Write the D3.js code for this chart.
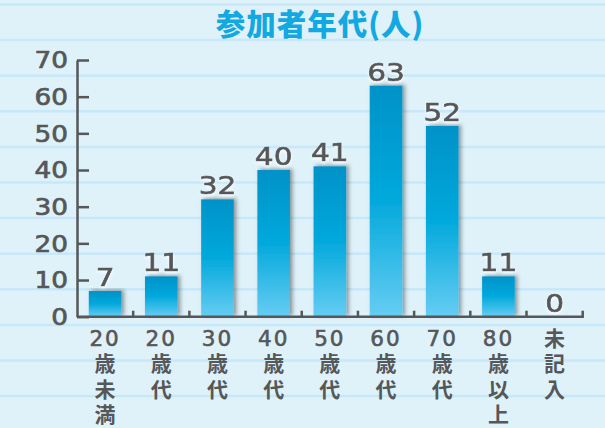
<!DOCTYPE html>
<html>
<head>
<meta charset="utf-8">
<script src="https://cdn.jsdelivr.net/npm/d3@7"></script>
<style>
  html, body { margin: 0; padding: 0; background: #dff2fa; }
  svg { display: block; }
</style>
</head>
<body>
<div id="chart"></div>
<script>
// data
const categories = ["20歳未満", "20歳代", "30歳代", "40歳代", "50歳代", "60歳代", "70歳代", "80歳以上", "未記入"];
const counts = [7, 11, 32, 40, 41, 63, 52, 11, 0];
const yTicks = [0, 10, 20, 30, 40, 50, 60, 70];
const title = "参加者年代(人)";

let dim = { width: 605, height: 428 };
const axisColor = "#555759";
const numFont = "'DejaVu Sans', sans-serif";
const jpFont = "'Noto Sans CJK JP', sans-serif";

let svg = d3.select('#chart').append('svg')
    .attr('width', dim.width)
    .attr('height', dim.height);

let defs = svg.append('defs');

let grad = defs.append('linearGradient')
    .attr('id', 'barGrad')
    .attr('x1', 0).attr('y1', 0).attr('x2', 0).attr('y2', 1);
grad.append('stop').attr('offset', '0%').attr('stop-color', '#0092c8');
grad.append('stop').attr('offset', '50%').attr('stop-color', '#03a9dc');
grad.append('stop').attr('offset', '100%').attr('stop-color', '#66cdf3');

let shadow = defs.append('filter').attr('id', 'barShadow')
    .attr('x', '-30%').attr('y', '-10%').attr('width', '160%').attr('height', '120%');
shadow.append('feDropShadow')
    .attr('dx', 2.5).attr('dy', -1).attr('stdDeviation', 2)
    .attr('flood-color', '#000').attr('flood-opacity', 0.4);

let txtShadow = defs.append('filter').attr('id', 'txtShadow')
    .attr('x', '-20%').attr('y', '-20%').attr('width', '140%').attr('height', '160%');
txtShadow.append('feDropShadow')
    .attr('dx', 0).attr('dy', 2).attr('stdDeviation', 1.5)
    .attr('flood-color', '#fff').attr('flood-opacity', 0.9);

// background ruled lines
svg.append('rect').attr('width', dim.width).attr('height', dim.height).attr('fill', '#dff2fa');
svg.append('g')
    .selectAll('line')
    .data(d3.range(12))
    .enter().append('line')
    .attr('x1', 0).attr('x2', dim.width)
    .attr('y1', i => 4.5 + i * 35.6)
    .attr('y2', i => 4.5 + i * 35.6)
    .attr('stroke', '#c6e8f8')
    .attr('stroke-width', 2.5);

// title
svg.append('text')
    .attr('x', 320).attr('y', 35)
    .attr('text-anchor', 'middle')
    .attr('font-family', jpFont)
    .attr('font-weight', 900)
    .attr('font-size', 29.5)
    .attr('letter-spacing', 1)
    .attr('fill', '#12a8e2')
    .text(title);

let scaleX = d3.scaleBand()
    .domain(categories)
    .range([77, 582.7])
    .paddingInner(0.42)
    .paddingOuter(0.21);

let scaleY = d3.scaleLinear()
    .domain([0, 70])
    .range([316.7, 60]);

// y axis (ticks point inward, labels drawn separately)
let axisY = d3.axisLeft(scaleY)
    .tickValues(yTicks)
    .tickSizeInner(-12)
    .tickSizeOuter(0)
    .tickFormat('');

let gy = svg.append('g')
    .attr('transform', 'translate(77,0)')
    .call(axisY);
gy.selectAll('path, line')
    .attr('stroke', axisColor)
    .attr('stroke-width', 2.5);

svg.append('g')
    .selectAll('text')
    .data(yTicks)
    .enter().append('text')
    .attr('transform', d => `translate(68,${scaleY(d)}) scale(1.12,1)`)
    .attr('text-anchor', 'end')
    .attr('dy', '0.36em')
    .attr('font-family', numFont)
    .attr('font-size', 23.5)
    .attr('fill', axisColor)
    .attr('stroke', axisColor)
    .attr('stroke-width', 0.7)
    .text(d => d);

// bars
svg.append('g')
    .selectAll('rect')
    .data(counts)
    .enter().append('rect')
    .attr('x', (d, i) => scaleX(categories[i]))
    .attr('y', d => scaleY(d))
    .attr('width', scaleX.bandwidth())
    .attr('height', d => scaleY(0) - scaleY(d))
    .attr('fill', 'url(#barGrad)')
    .attr('filter', 'url(#barShadow)');

// value labels
svg.append('g')
    .selectAll('text')
    .data(counts)
    .enter().append('text')
    .attr('transform', (d, i) =>
        `translate(${scaleX(categories[i]) + scaleX.bandwidth() / 2},${scaleY(d) - 5}) scale(1.16,1)`)
    .attr('text-anchor', 'middle')
    .attr('font-family', numFont)
    .attr('font-size', 25.5)
    .attr('fill', axisColor)
    .attr('stroke', axisColor)
    .attr('stroke-width', 0.7)
    .attr('filter', 'url(#txtShadow)')
    .text(d => d);

// x axis baseline with upward ticks at band boundaries
let step = scaleX.step();
let gx = svg.append('g');
gx.append('line')
    .attr('x1', 77).attr('x2', 582.7 + 1.2)
    .attr('y1', scaleY(0)).attr('y2', scaleY(0))
    .attr('stroke', axisColor).attr('stroke-width', 2.5);
gx.selectAll('.xt')
    .data(d3.range(1, categories.length + 1))
    .enter().append('line')
    .attr('class', 'xt')
    .attr('x1', i => 77 + i * step).attr('x2', i => 77 + i * step)
    .attr('y1', scaleY(0)).attr('y2', scaleY(0) - 6)
    .attr('stroke', axisColor).attr('stroke-width', 2.5);

// x tick labels, stacked vertically (one text per category, one tspan per row)
function splitLabel(s) {
    let m = s.match(/^\d+/);
    let rest = m ? s.slice(m[0].length) : s;
    return (m ? [m[0]] : []).concat(rest.split(''));
}

let isNum = t => /\d/.test(t);
let rowY0 = 338.5, rowPitch = 25.1;

let lab = svg.append('g')
    .selectAll('text')
    .data(categories)
    .enter().append('text')
    .attr('text-anchor', 'middle')
    .attr('fill', axisColor);

lab.selectAll('tspan')
    .data(d => splitLabel(d).map(t => ({ t: t, cx: scaleX(d) + scaleX.bandwidth() / 2 })))
    .enter().append('tspan')
    .attr('x', r => r.cx)
    .attr('y', (r, j) => rowY0 + j * rowPitch + (isNum(r.t) ? 7.7 : 7.8))
    .attr('font-family', r => isNum(r.t) ? numFont : jpFont)
    .attr('font-weight', r => isNum(r.t) ? 'normal' : 'bold')
    .attr('font-size', r => isNum(r.t) ? 21.5 : 21)
    .attr('letter-spacing', r => isNum(r.t) ? 2 : 0)
    .attr('stroke', r => isNum(r.t) ? axisColor : 'none')
    .attr('stroke-width', 0.6)
    .text(r => r.t);
</script>
</body>
</html>
